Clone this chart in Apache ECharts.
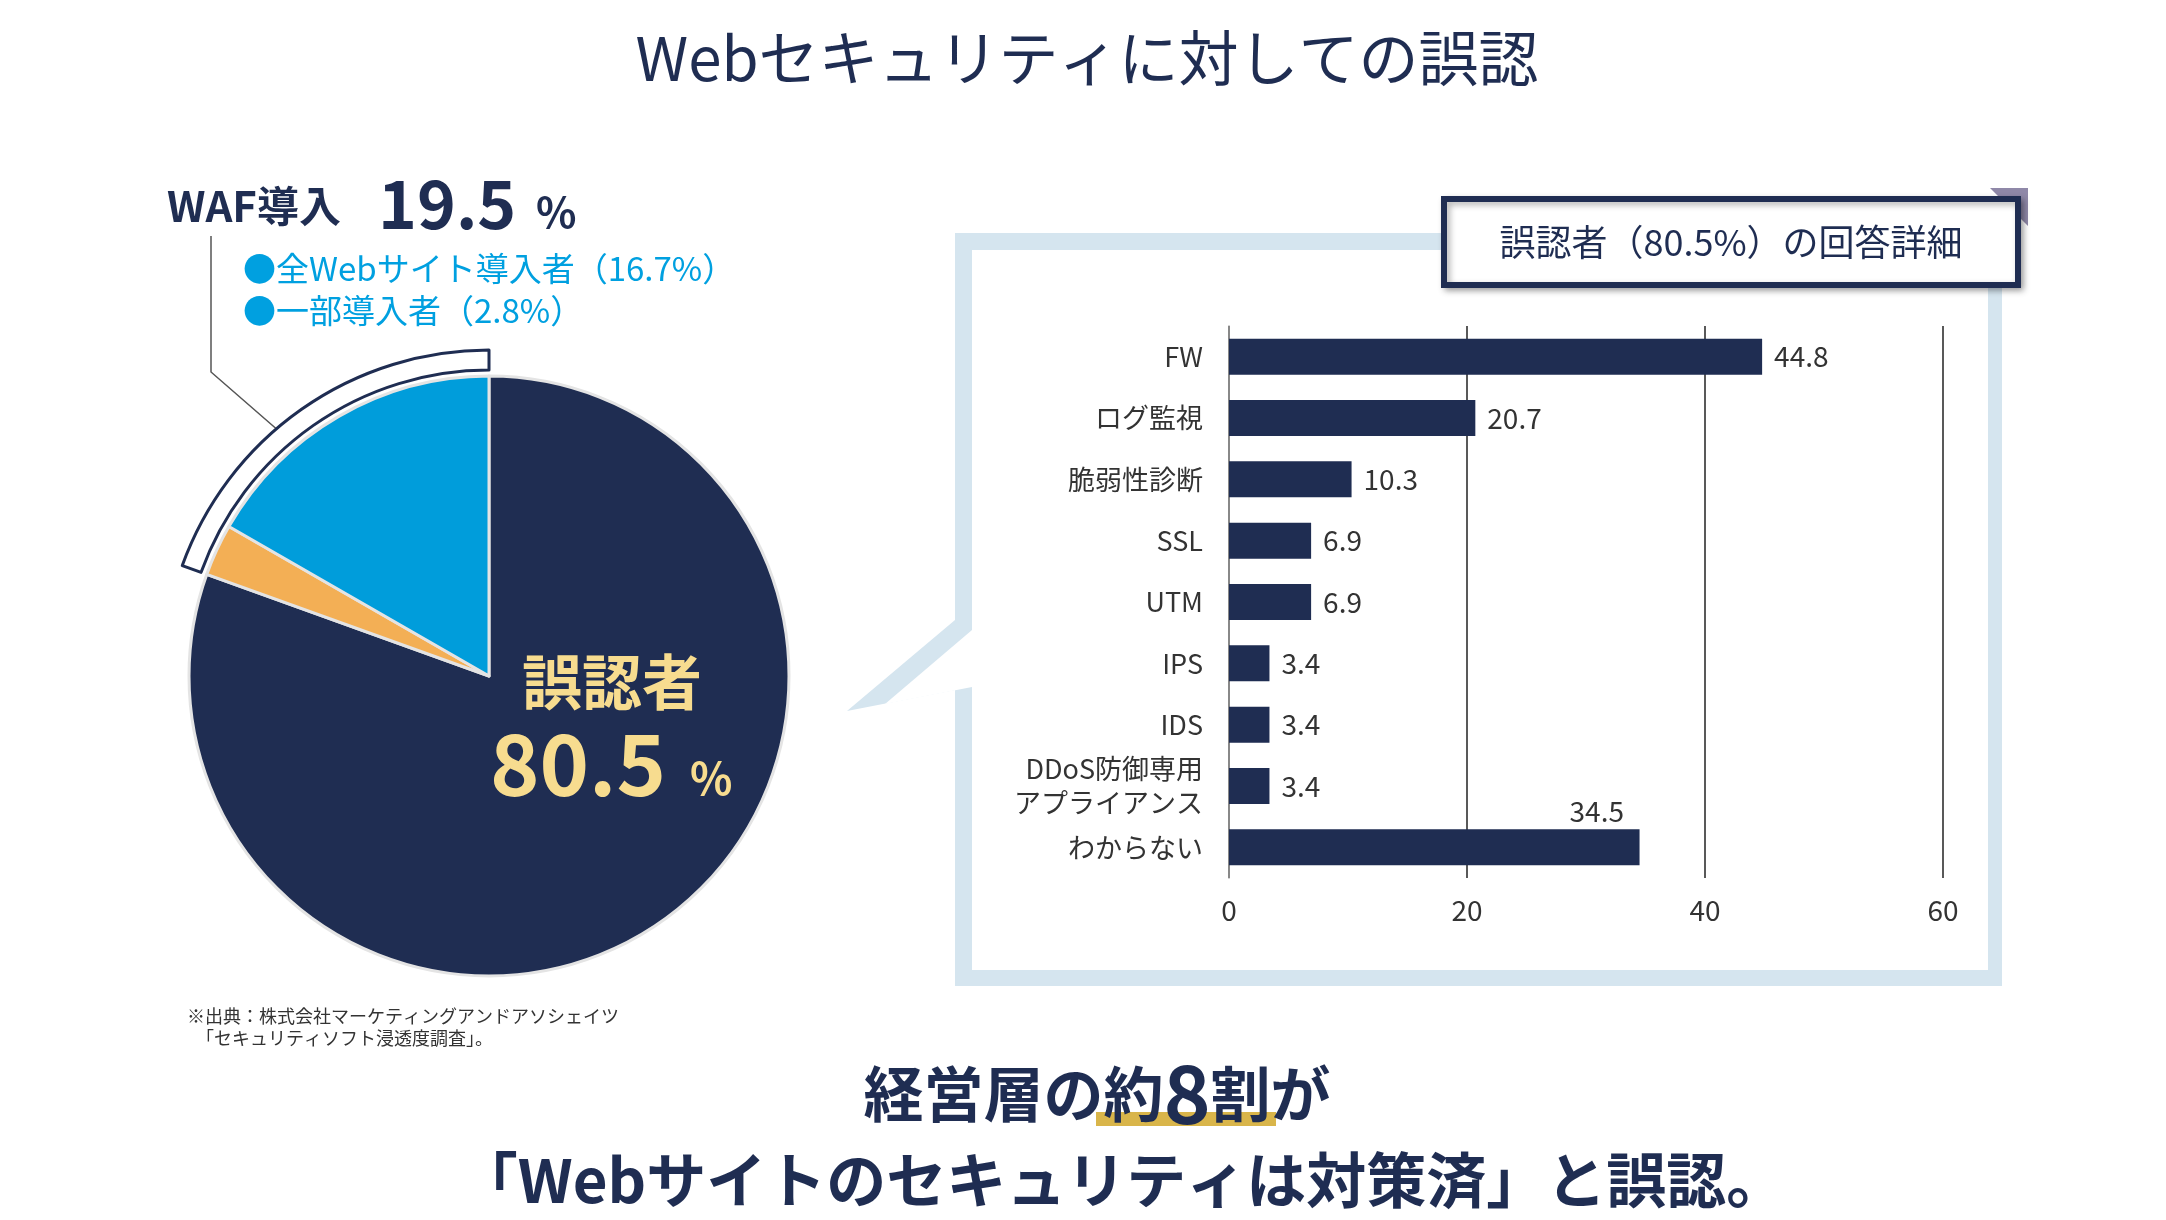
<!DOCTYPE html>
<html><head><meta charset="utf-8">
<script src="https://cdn.jsdelivr.net/npm/echarts@6/dist/echarts.min.js"></script>
<style>html,body{margin:0;padding:0;background:#fff}#main{width:2166px;height:1220px}</style>
</head><body><div id="main"></div>
<script>
var pieNames = ['誤認者', '一部導入者', '全Webサイト導入者'];
var pieValues = [80.5, 2.8, 16.7];
var barCats = ['FW', 'ログ監視', '脆弱性診断', 'SSL', 'UTM', 'IPS', 'IDS', 'DDoS防御専用\nアプライアンス', 'わからない'];
var barValues = [44.8, 20.7, 10.3, 6.9, 6.9, 3.4, 3.4, 3.4, 34.5];
var xTicks = [0, 20, 40, 60];

var navy = '#1f2d52';
var font = '"Noto Sans CJK JP", "Noto Sans", sans-serif';
var myChart = echarts.init(document.getElementById('main'));

var option = {
    backgroundColor: '#fff',
    textStyle: { fontFamily: font },
    grid: { left: 1229, top: 326, width: 714, height: 552 },
    xAxis: {
        type: 'value', min: xTicks[0], max: xTicks[xTicks.length - 1], interval: 20,
        axisLine: { show: false }, axisTick: { show: false },
        splitLine: { lineStyle: { color: '#222', width: 1.5 } },
        axisLabel: { color: '#333', fontSize: 28, margin: 18, fontFamily: font }
    },
    yAxis: {
        type: 'category', inverse: true, data: barCats,
        axisLine: { lineStyle: { color: '#999', width: 1.5 } }, axisTick: { show: false },
        axisLabel: { color: '#333', fontSize: 27, margin: 26, lineHeight: 34, fontFamily: font }
    },
    series: [
        {
            type: 'pie', z: 1, silent: true, startAngle: 90, clockwise: true,
            center: [489, 676], radius: [306, 326],
            label: { show: false }, labelLine: { show: false },
            data: [
                { value: 80.5, itemStyle: { color: 'rgba(0,0,0,0)', borderWidth: 0 } },
                { value: 19.5, itemStyle: { color: '#fff', borderColor: navy, borderWidth: 3 } }
            ]
        },
        {
            type: 'pie', z: 2, silent: true, startAngle: 90, clockwise: true,
            center: [489, 676], radius: [0, 300],
            label: { show: false }, labelLine: { show: false },
            itemStyle: { borderColor: '#e4e4e4', borderWidth: 3 },
            data: pieNames.map(function (n, i) {
                return { name: n, value: pieValues[i], itemStyle: { color: [navy, '#f3af55', '#009ddb'][i] } };
            })
        },
        {
            type: 'bar', data: barValues.map(function (v, i) {
                return i === barValues.length - 1
                    ? { value: v, label: { position: [v * 714 / 60 - 70, -32] } }
                    : v;
            }),
            barWidth: 36, z: 5,
            itemStyle: { color: navy },
            label: { show: true, position: 'right', distance: 12, color: '#333', fontSize: 28, fontFamily: font }
        }
    ],
    graphic: [
        // callout frame
        { type: 'polygon', z: 0, shape: { points: [[955, 233], [2002, 233], [2002, 986], [955, 986], [955, 690], [847, 711], [955, 620]] },
          style: { fill: '#d5e5ef' } },
        { type: 'polygon', z: 0, shape: { points: [[972, 250], [1988, 250], [1988, 970], [972, 970], [972, 687], [885, 704], [972, 630]] },
          style: { fill: '#fff' } },
        // title box
        { type: 'polygon', z: 10, shape: { points: [[1990, 188], [2028, 188], [2028, 226]] }, style: { fill: '#8f88a8' } },
        { type: 'rect', z: 10, shape: { x: 1444, y: 199, width: 574, height: 86 },
          style: { fill: '#fff', stroke: navy, lineWidth: 6, shadowBlur: 6, shadowColor: 'rgba(0,0,0,0.3)', shadowOffsetX: 3, shadowOffsetY: 3 } },
        { type: 'text', z: 11, x: 1731, y: 242, style: { text: '誤認者（80.5%）の回答詳細', font: '36px ' + font, fill: navy, align: 'center', verticalAlign: 'middle' } },
        // main title
        { type: 'text', x: 1087, y: 58, style: { text: 'Webセキュリティに対しての誤認', font: '60px ' + font, fill: navy, align: 'center', verticalAlign: 'middle' } },
        // WAF label
        { type: 'text', x: 167, y: 206, style: { text: 'WAF導入', font: 'bold 42px ' + font, fill: navy, verticalAlign: 'middle' } },
        { type: 'text', x: 378, y: 204, style: { text: '19.5', font: 'bold 66px ' + font, fill: navy, verticalAlign: 'middle' } },
        { type: 'text', x: 536, y: 212, style: { text: '%', font: 'bold 42px ' + font, fill: navy, verticalAlign: 'middle' } },
        { type: 'text', x: 243, y: 268, style: { text: '●全Webサイト導入者（16.7%）', font: '33px ' + font, fill: '#00a0e0', verticalAlign: 'middle' } },
        { type: 'text', x: 243, y: 310, style: { text: '●一部導入者（2.8%）', font: '33px ' + font, fill: '#00a0e0', verticalAlign: 'middle' } },
        { type: 'polyline', shape: { points: [[211, 236], [211, 372], [280, 432]] }, style: { stroke: '#555', lineWidth: 1.5, fill: null } },
        // center label
        { type: 'text', z: 20, x: 612, y: 682, style: { text: '誤認者', font: 'bold 60px ' + font, fill: '#f7dc8f', align: 'center', verticalAlign: 'middle' } },
        { type: 'text', z: 20, x: 490, y: 764, style: { text: '80.5', font: 'bold 84px ' + font, fill: '#f7dc8f', verticalAlign: 'middle' } },
        { type: 'text', z: 20, x: 690, y: 778, style: { text: '%', font: 'bold 44px ' + font, fill: '#f7dc8f', verticalAlign: 'middle' } },
        // source
        { type: 'text', x: 187, y: 1027, style: { text: '※出典：株式会社マーケティングアンドアソシェイツ\n　「セキュリティソフト浸透度調査」。', font: '18px ' + font, lineHeight: 22, fill: '#333', verticalAlign: 'middle' } },
        // bottom message
        { type: 'rect', shape: { x: 1096, y: 1112, width: 180, height: 14 }, style: { fill: '#d9b54a' } },
        { type: 'text', x: 1097, y: 1094, style: { rich: {
              a: { font: 'bold 60px ' + font, fill: navy },
              b: { font: 'bold 80px ' + font, fill: navy }
          }, text: '{a|経営層の約}{b|8}{a|割が}', align: 'center', verticalAlign: 'middle' } },
        { type: 'text', x: 1122, y: 1180, style: { text: '「Webサイトのセキュリティは対策済」と誤認。', font: 'bold 60px ' + font, fill: navy, align: 'center', verticalAlign: 'middle' } }
    ]
};
myChart.setOption(option);
</script>
</body></html>
